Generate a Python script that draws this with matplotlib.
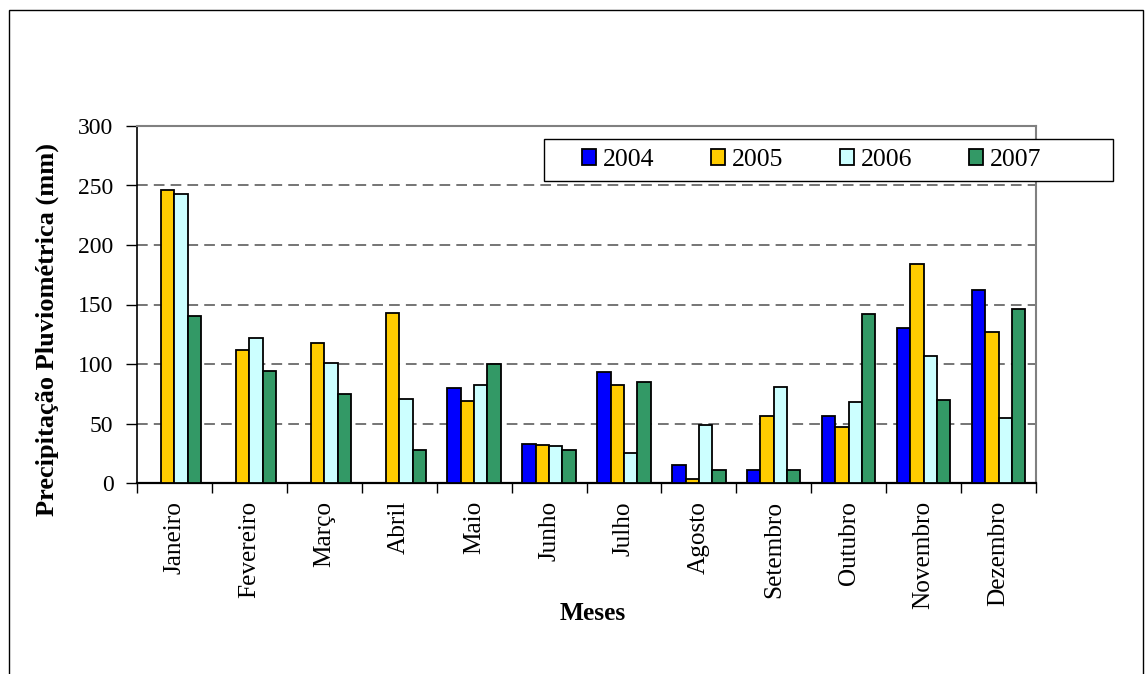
import numpy as np
import matplotlib
matplotlib.use('Agg')
import matplotlib.pyplot as plt
from matplotlib.patches import Rectangle, Patch

plt.rcParams['font.family'] = ['Liberation Serif', 'DejaVu Serif']

meses = ['Janeiro', 'Fevereiro', 'Março', 'Abril', 'Maio', 'Junho',
         'Julho', 'Agosto', 'Setembro', 'Outubro', 'Novembro', 'Dezembro']
anos = ['2004', '2005', '2006', '2007']

chuva_2004 = [0, 0, 0, 0, 80, 33, 93, 15, 11, 56, 130, 162]
chuva_2005 = [246, 112, 118, 143, 69, 32, 82, 3, 56, 47, 184, 127]
chuva_2006 = [243, 122, 101, 71, 82, 31, 25, 49, 81, 68, 107, 55]
chuva_2007 = [140, 94, 75, 28, 100, 28, 85, 11, 11, 142, 70, 146]

cores = ['#0000FF', '#FFCC00', '#CCFFFF', '#339966']
series = [chuva_2004, chuva_2005, chuva_2006, chuva_2007]

W, H = 1145, 674
fig = plt.figure(figsize=(W / 100, H / 100), dpi=100)
fig.patch.set_facecolor('white')

# moldura externa (cortada embaixo como no original)
fig.patches.append(Rectangle((9 / W, -0.05), (1143 - 9) / W, 1.05 - 10 / H,
                             transform=fig.transFigure, fill=False,
                             edgecolor='black', linewidth=1.0))

x0, x1, y0, y1 = 137, 1036, 126, 483
ax = fig.add_axes([x0 / W, 1 - y1 / H, (x1 - x0) / W, (y1 - y0) / H])

x = np.arange(len(meses))
larg = 0.178
for i, (vals, cor, ano) in enumerate(zip(series, cores, anos)):
    ax.bar(x + (i - 1.5) * larg, vals, width=larg, color=cor,
           edgecolor='black', linewidth=1.3, label=ano, zorder=3)

ax.set_xlim(-0.5, len(meses) - 0.5)
ax.set_ylim(0, 300)
ax.set_yticks(range(0, 301, 50))
ax.tick_params(axis='y', labelsize=17, direction='out', length=8, width=1, pad=9)

ax.set_xticks(x)
ax.set_xticklabels(meses, rotation=90, fontsize=18.2)
ax.tick_params(axis='x', length=0, pad=13)
ax.set_xticks(np.arange(-0.5, len(meses), 1), minor=True)
ax.tick_params(axis='x', which='minor', length=7, width=1, direction='out')

for v in range(50, 300, 50):
    ax.axhline(v, color='#505050', linestyle=(0, (7, 4)), linewidth=1.1, zorder=1)

ax.spines['left'].set_color('black')
ax.spines['bottom'].set_color('black')
ax.spines['left'].set_linewidth(1.2)
ax.spines['bottom'].set_linewidth(1.6)
ax.spines['top'].set_color('#808080')
ax.spines['right'].set_color('#808080')
ax.spines['top'].set_linewidth(1.5)
ax.spines['right'].set_linewidth(1.5)

fig.text(47 / W, 1 - 329 / H, 'Precipitação Pluviométrica (mm)', fontsize=19,
         fontweight='bold', rotation=90, ha='center', va='center')
fig.text(593 / W, 1 - 613 / H, 'Meses', fontsize=18.4, fontweight='bold',
         ha='center', va='center')

# caixa da legenda desenhada à parte (ultrapassa a área do gráfico)
lx0, lx1, ly0, ly1 = 544, 1113, 139, 181
fig.patches.append(Rectangle((lx0 / W, 1 - ly1 / H), (lx1 - lx0) / W, (ly1 - ly0) / H,
                             transform=fig.transFigure, facecolor='white',
                             edgecolor='black', linewidth=1.0, zorder=4))
handles = [Patch(facecolor=c, edgecolor='black', linewidth=1.3) for c in cores]
leg = fig.legend(handles, anos, loc='center left',
                 bbox_to_anchor=(582 / W, 1 - 160 / H), ncol=4, fontsize=18.5,
                 frameon=False, borderaxespad=0, borderpad=0,
                 handlelength=0.55, handleheight=0.55,
                 handletextpad=0.27, columnspacing=2.2)
leg.set_zorder(5)

fig.savefig('out.png', dpi=100, facecolor='white')
